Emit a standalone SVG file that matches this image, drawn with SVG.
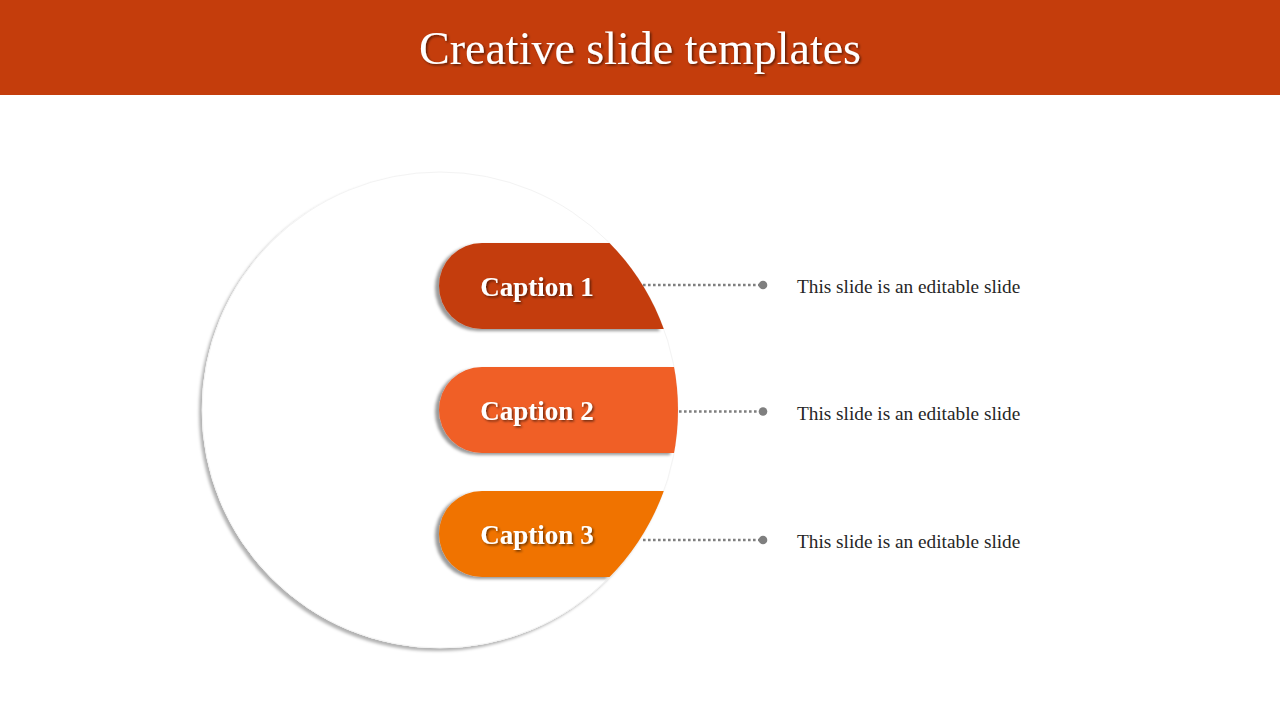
<svg xmlns="http://www.w3.org/2000/svg" width="1280" height="720" viewBox="0 0 1280 720">
  <style>
    .title { font-family: "Liberation Serif", "DejaVu Serif", serif; font-size: 46px; fill: #ffffff; }
    .cap { font-family: "Liberation Serif", "DejaVu Serif", serif; font-size: 27px; font-weight: bold; fill: #ffffff; }
    .desc { font-family: "Liberation Serif", "DejaVu Serif", serif; font-size: 19.3px; fill: #262626; }
    .conn { stroke: #7f7f7f; stroke-width: 2.6; stroke-dasharray: 2.6 2.4; fill: none; }
    .dot { fill: #7f7f7f; }
  </style>
  <defs>
    <filter id="circShadow" x="-10%" y="-10%" width="120%" height="120%">
      <feDropShadow dx="-3" dy="3" stdDeviation="1.6" flood-color="#000" flood-opacity="0.3"/>
    </filter>
    <filter id="pillShadow" x="-10%" y="-20%" width="120%" height="140%">
      <feDropShadow dx="-4" dy="2" stdDeviation="1.8" flood-color="#000" flood-opacity="0.4"/>
    </filter>
    <filter id="textShadow" x="-10%" y="-20%" width="120%" height="150%">
      <feDropShadow dx="1.5" dy="1.5" stdDeviation="0.8" flood-color="#000" flood-opacity="0.55"/>
    </filter>
    <clipPath id="circClip">
      <circle cx="440" cy="410" r="238"/>
    </clipPath>
  </defs>

  <g id="header">
    <rect x="0" y="0" width="1280" height="95" fill="#c43d0c"/>
    <text class="title" x="640" y="64" text-anchor="middle" filter="url(#textShadow)">Creative slide templates</text>
  </g>

  <g id="circle">
    <circle cx="440" cy="410" r="238" fill="#ffffff" filter="url(#circShadow)"/>
    <circle cx="440" cy="410" r="238" fill="none" stroke="#f3f3f3" stroke-width="1"/>
  </g>

  <g id="connectors">
    <line class="conn" x1="643" y1="285" x2="762" y2="285"/>
    <circle class="dot" cx="763" cy="285" r="4.3"/>
    <line class="conn" x1="679" y1="411.5" x2="762" y2="411.5"/>
    <circle class="dot" cx="763" cy="411.5" r="4.3"/>
    <line class="conn" x1="643" y1="540" x2="762" y2="540"/>
    <circle class="dot" cx="763" cy="540" r="4.3"/>
  </g>

  <g id="caption1">
    <g filter="url(#pillShadow)">
      <rect x="439" y="243" width="320" height="86" rx="43" ry="43" fill="#c43d0c" clip-path="url(#circClip)"/>
    </g>
    <text class="cap" x="537" y="296" text-anchor="middle" filter="url(#textShadow)">Caption 1</text>
  </g>

  <g id="caption2">
    <g filter="url(#pillShadow)">
      <rect x="439" y="367" width="320" height="86" rx="43" ry="43" fill="#f05e28" clip-path="url(#circClip)"/>
    </g>
    <text class="cap" x="537" y="420" text-anchor="middle" filter="url(#textShadow)">Caption 2</text>
  </g>

  <g id="caption3">
    <g filter="url(#pillShadow)">
      <rect x="439" y="491" width="320" height="86" rx="43" ry="43" fill="#f07306" clip-path="url(#circClip)"/>
    </g>
    <text class="cap" x="537" y="544" text-anchor="middle" filter="url(#textShadow)">Caption 3</text>
  </g>

  <g id="desc1"><text class="desc" x="797" y="293">This slide is an editable slide</text></g>
  <g id="desc2"><text class="desc" x="797" y="420">This slide is an editable slide</text></g>
  <g id="desc3"><text class="desc" x="797" y="548">This slide is an editable slide</text></g>
</svg>
